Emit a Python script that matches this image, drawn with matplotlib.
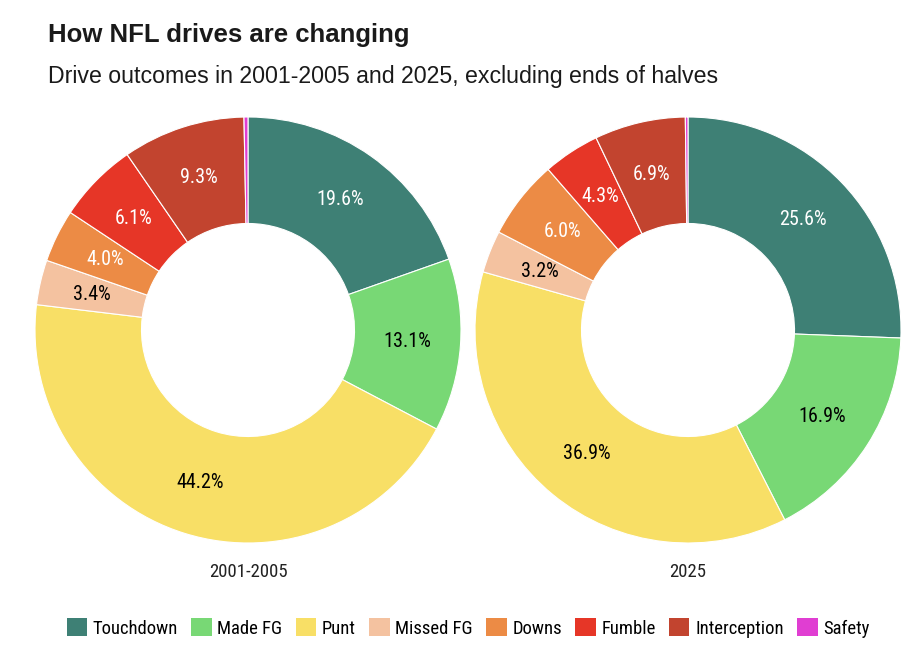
import matplotlib
matplotlib.use('Agg')
import matplotlib.pyplot as plt
from matplotlib.patches import Patch

# drive outcome shares (%), clockwise from 12 o'clock
outcomes = ['Touchdown', 'Made FG', 'Punt', 'Missed FG', 'Downs', 'Fumble', 'Interception', 'Safety']
early = [19.6, 13.1, 44.2, 3.4, 4.0, 6.1, 9.3, 0.3]
recent = [25.6, 16.9, 36.9, 3.2, 6.0, 4.3, 6.9, 0.2]
periods = ['2001-2005', '2025']

colors = ['#3e8075', '#78d875', '#f8df66', '#f4c2a0', '#ec8b45', '#e63627', '#c2442f', '#e03ed2']
label_colors = ['white', 'black', 'black', 'black', 'white', 'white', 'white', 'white']

narrow = ['Roboto Condensed', 'DejaVu Sans']
sans = ['Liberation Sans', 'DejaVu Sans']

fig = plt.figure(figsize=(9.12, 6.5), dpi=100)

fig.text(48/912, 1 - 42/650, 'How NFL drives are changing', fontsize=18.5, fontweight='bold',
         family=sans, color='#1a1a1a', va='baseline', ha='left')
fig.text(48/912, 1 - 83/650, 'Drive outcomes in 2001-2005 and 2025, excluding ends of halves',
         fontsize=16.7, family=sans, color='#1a1a1a', va='baseline', ha='left')

def fmt(p):
    return f'{p:.1f}%' if p >= 1 else ''

centers = [248, 688]
r_px = 213
for cx, data, name in zip(centers, [early, recent], periods):
    ax = fig.add_axes([(cx - r_px)/912, (320 - r_px)/650, 2*r_px/912, 2*r_px/650])
    wedges, texts, autotexts = ax.pie(data, colors=colors, startangle=90, counterclock=False,
                                      autopct=fmt, pctdistance=0.75,
                                      wedgeprops=dict(width=0.5, edgecolor='white', linewidth=0.8))
    for t, c in zip(autotexts, label_colors):
        t.set_color(c)
        t.set_fontsize(14.5)
        t.set_family(narrow)
    ax.set_xlim(-1, 1)
    ax.set_ylim(-1, 1)
    ax.set_aspect('equal')
    fig.text(cx/912, 1 - 572/650, name, ha='center', va='center', fontsize=13.5,
             family=narrow, color='#222222')

handles = [Patch(facecolor=c, edgecolor='none') for c in colors]
fig.legend(handles, outcomes, loc='center', bbox_to_anchor=(468/912, 1 - 628/650), ncol=8,
           frameon=False, prop={'family': narrow, 'size': 13.4},
           handlelength=1.1, handleheight=1.1, handletextpad=0.3, columnspacing=0.72)

fig.savefig('out.png', dpi=100, facecolor='white')
